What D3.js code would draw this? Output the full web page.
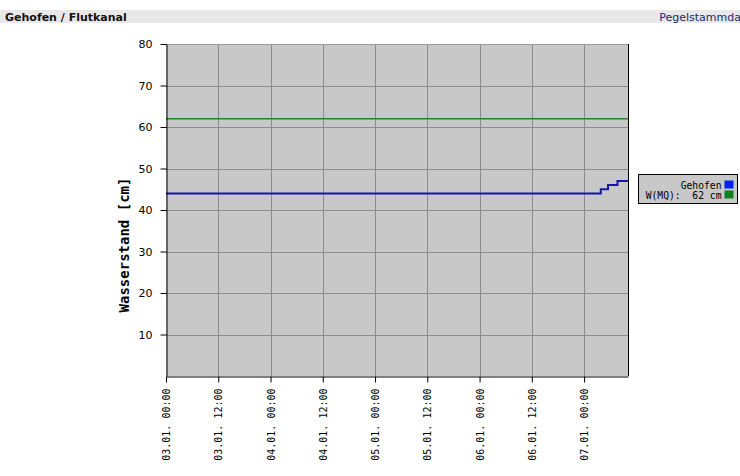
<!DOCTYPE html>
<html>
<head>
<meta charset="utf-8">
<script src="https://cdn.jsdelivr.net/npm/d3@7"></script>
<style>
  body { margin: 0; background: #fff; }
  svg { display: block; }
</style>
</head>
<body>
<div id="chart"></div>
<script>
// Pegel Gehofen / Flutkanal, Wasserstand in cm
var stationName = "Gehofen / Flutkanal";
var linkText = "Pegelstammda";
var yLabel = "Wasserstand [cm]";

// Messwerte (Zeitpunkt, Wasserstand)
var levelTimes = ["03.01. 00:00", "07.01. 03:50", "07.01. 05:30", "07.01. 07:40", "07.01. 10:05"];
var levelValues = [44, 45, 46, 47, 47];

var mqValue = 62;
var yTicks = [10, 20, 30, 40, 50, 60, 70, 80];
var xTickLabels = ["03.01. 00:00", "03.01. 12:00", "04.01. 00:00", "04.01. 12:00",
  "05.01. 00:00", "05.01. 12:00", "06.01. 00:00", "06.01. 12:00", "07.01. 00:00"];
var legendLabels = ["Gehofen", "W(MQ):  62 cm"];

function parseTime(s) {
  // "dd.mm. HH:MM" -> Date
  var day = +s.substring(0, 2), month = +s.substring(3, 5);
  var h = +s.substring(7, 9), m = +s.substring(10, 12);
  return new Date(Date.UTC(2000, month - 1, day, h, m));
}

var W = 740, H = 476;
var margin = {top: 44, right: 112, bottom: 100, left: 166};
var width = 628 - margin.left, height = 376 - margin.top;

var svg = d3.select("#chart").append("svg")
  .attr("width", W).attr("height", H);

// header bar
svg.append("rect").attr("x", 0).attr("y", 10).attr("width", W).attr("height", 13)
  .attr("fill", "#e8e8e8");
svg.append("text").attr("x", 5).attr("y", 20.5)
  .attr("font-family", "Verdana, 'DejaVu Sans', sans-serif").attr("font-weight", "bold")
  .attr("font-size", 11).attr("fill", "#111").text(stationName);
svg.append("text").attr("x", 741).attr("y", 20.5).attr("text-anchor", "end")
  .attr("font-family", "Verdana, 'DejaVu Sans', sans-serif")
  .attr("font-size", 11).attr("fill", "#1a2a6c").text(linkText);

var g = svg.append("g").attr("transform", "translate(" + margin.left + "," + margin.top + ")");

var x = d3.scaleUtc()
  .domain([parseTime("03.01. 00:00"), parseTime("07.01. 10:05")])
  .range([0, width]);
var y = d3.scaleLinear().domain([0, 80]).range([height, 0]);

g.append("rect").attr("width", width).attr("height", height).attr("fill", "#c8c8c8");

// grid
g.selectAll(".hgrid").data(yTicks.slice(0, -1)).enter().append("line")
  .attr("x1", 0).attr("x2", width)
  .attr("y1", function(d) { return Math.round(y(d)) + 0.5; })
  .attr("y2", function(d) { return Math.round(y(d)) + 0.5; })
  .attr("stroke", "#8c8c8c").attr("stroke-width", 1);
g.selectAll(".vgrid").data(xTickLabels.slice(1)).enter().append("line")
  .attr("y1", 0).attr("y2", height)
  .attr("x1", function(d) { return Math.round(x(parseTime(d))) + 0.5; })
  .attr("x2", function(d) { return Math.round(x(parseTime(d))) + 0.5; })
  .attr("stroke", "#8c8c8c").attr("stroke-width", 1);

// frame
g.append("line").attr("x1", 0).attr("x2", width).attr("y1", 0.5).attr("y2", 0.5)
  .attr("stroke", "#999");
g.append("line").attr("x1", width + 0.5).attr("x2", width + 0.5).attr("y1", 0).attr("y2", height)
  .attr("stroke", "#000");

// MQ line
g.append("line").attr("x1", 0).attr("x2", width)
  .attr("y1", y(mqValue)).attr("y2", y(mqValue))
  .attr("stroke", "#2e7d32").attr("stroke-width", 1.5);

// Wasserstand
var data = levelTimes.map(function(t, i) { return {date: parseTime(t), value: levelValues[i]}; });
var line = d3.line()
  .x(function(d) { return x(d.date); })
  .y(function(d) { return y(d.value); })
  .curve(d3.curveStepAfter);
g.append("path").datum(data)
  .attr("fill", "none").attr("stroke", "#1515a8").attr("stroke-width", 2)
  .attr("d", line);

// axes
var yAxis = g.append("g").attr("transform", "translate(0.5,0)")
  .call(d3.axisLeft(y).tickValues(yTicks).tickSize(6).tickPadding(8).tickSizeOuter(0));
yAxis.select(".domain").attr("stroke", "#000");
yAxis.selectAll("text").attr("font-family", "Verdana, 'DejaVu Sans', sans-serif")
  .attr("font-size", 11).attr("fill", "#000");

var xAxis = g.append("g").attr("transform", "translate(0," + (height + 0.5) + ")")
  .call(d3.axisBottom(x).tickValues(xTickLabels.map(parseTime))
    .tickFormat(function(d, i) { return xTickLabels[i]; })
    .tickSize(6).tickSizeOuter(0));
xAxis.select(".domain").attr("stroke", "#000");
xAxis.selectAll("text")
  .attr("font-family", "'DejaVu Sans Mono', monospace").attr("font-size", 10).attr("fill", "#000")
  .attr("transform", "rotate(-90)")
  .attr("text-anchor", "end")
  .attr("x", -12).attr("y", 0).attr("dy", "0.35em");

// y label
svg.append("text")
  .attr("transform", "translate(129,245) rotate(-90)")
  .attr("text-anchor", "middle")
  .attr("font-family", "'DejaVu Sans Mono', monospace").attr("font-weight", "bold")
  .attr("font-size", 14).attr("fill", "#000").text(yLabel);

// legend
var legend = svg.append("g").attr("transform", "translate(638.5,174.5)");
legend.append("rect").attr("width", 99).attr("height", 29)
  .attr("fill", "#c8c8c8").attr("stroke", "#000");
var legendColors = ["#0022ee", "#11801a"];
legendLabels.forEach(function(lbl, i) {
  legend.append("text").attr("x", 83).attr("y", 14 + i * 10).attr("text-anchor", "end")
    .attr("font-family", "'DejaVu Sans Mono', monospace").attr("font-size", 9.7)
    .attr("fill", "#000").style("white-space", "pre").text(lbl);
  legend.append("rect").attr("x", 86).attr("y", 6 + i * 10).attr("width", 9).attr("height", 8)
    .attr("fill", legendColors[i]);
});
</script>
</body>
</html>
